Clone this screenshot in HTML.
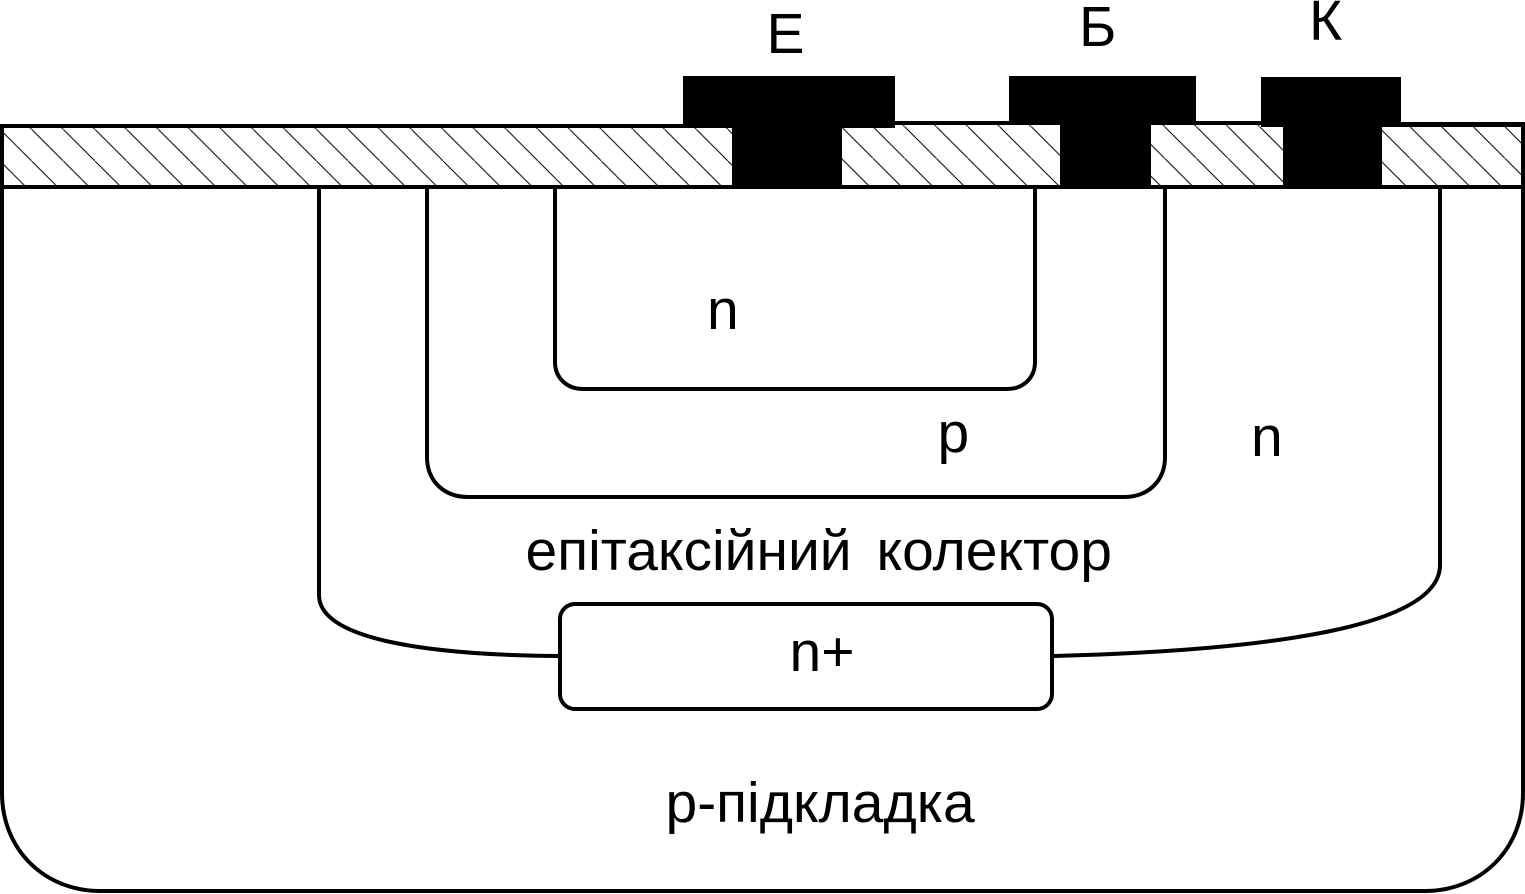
<!DOCTYPE html>
<html><head><meta charset="utf-8"><style>html,body{margin:0;padding:0;background:#fff}svg{display:block}text{font-family:"Liberation Sans",sans-serif;font-size:57px;fill:#000}</style></head>
<body>
<svg width="1525" height="894" viewBox="0 0 1525 894" xmlns="http://www.w3.org/2000/svg">
<defs>
<pattern id="a" patternUnits="userSpaceOnUse" width="31.65" height="31.65" patternTransform="translate(0 161)"><path d="M-1 -1L33 33" stroke="#000" stroke-width="1"/></pattern>
<pattern id="b" patternUnits="userSpaceOnUse" width="31.65" height="31.65" patternTransform="translate(778 0)"><path d="M-1 -1L33 33" stroke="#000" stroke-width="1"/></pattern>
<pattern id="c" patternUnits="userSpaceOnUse" width="31.65" height="31.65" patternTransform="translate(1038 0)"><path d="M-1 -1L33 33" stroke="#000" stroke-width="1"/></pattern>
<pattern id="d" patternUnits="userSpaceOnUse" width="31.65" height="31.65" patternTransform="translate(1220 0)"><path d="M-1 -1L33 33" stroke="#000" stroke-width="1"/></pattern>
</defs>
<rect width="1525" height="894" fill="#fff"/>
<rect x="4" y="128" width="728" height="57" fill="url(#a)"/>
<rect x="842" y="125" width="218" height="60" fill="url(#b)"/>
<rect x="1151" y="125" width="132" height="60" fill="url(#c)"/>
<rect x="1382" y="127" width="139" height="58" fill="url(#d)"/>
<g fill="none" stroke="#000" stroke-width="4">
<path d="M2 124V793C2 850 45 891 100 891H1425C1480 891 1523 850 1523 793V124"/>
<path d="M0 126H700M880 123H1270"/>
<path d="M1390 124.500H1525" stroke-width="5"/>
<path d="M0 187H1525"/>
<path d="M555 188V362C555 378 567 389 583 389H1007C1023 389 1035 378 1035 362V188"/>
<path d="M427 188V457C427 481 444 497 468 497H1124C1148 497 1165 481 1165 457V188"/>
<path d="M319 188V595C319 640 430 655 558 656"/>
<path d="M1440 188V565C1440 625 1280 650 1054 656"/>
<rect x="560" y="604" width="492" height="105" rx="15" ry="15"/>
</g>
<path d="M683 76H895V128H842V187H732V128H683Z" fill="#000"/>
<path d="M1009 76H1196V125H1151V187H1060V125H1009Z" fill="#000"/>
<path d="M1261 77H1401V127H1382V187H1283V127H1261Z" fill="#000"/>
<text x="766.500" y="53">Е</text>
<text x="1079" y="46">Б</text>
<text x="1309" y="40">К</text>
<text x="707" y="329">n</text>
<text x="937.500" y="452">p</text>
<text x="1251" y="456">n</text>
<text x="525.500" y="570">епітаксійний</text>
<text x="876.500" y="570">колектор</text>
<text x="789.500" y="671">n+</text>
<text x="665.500" y="822">p-підкладка</text>
</svg>
</body></html>
